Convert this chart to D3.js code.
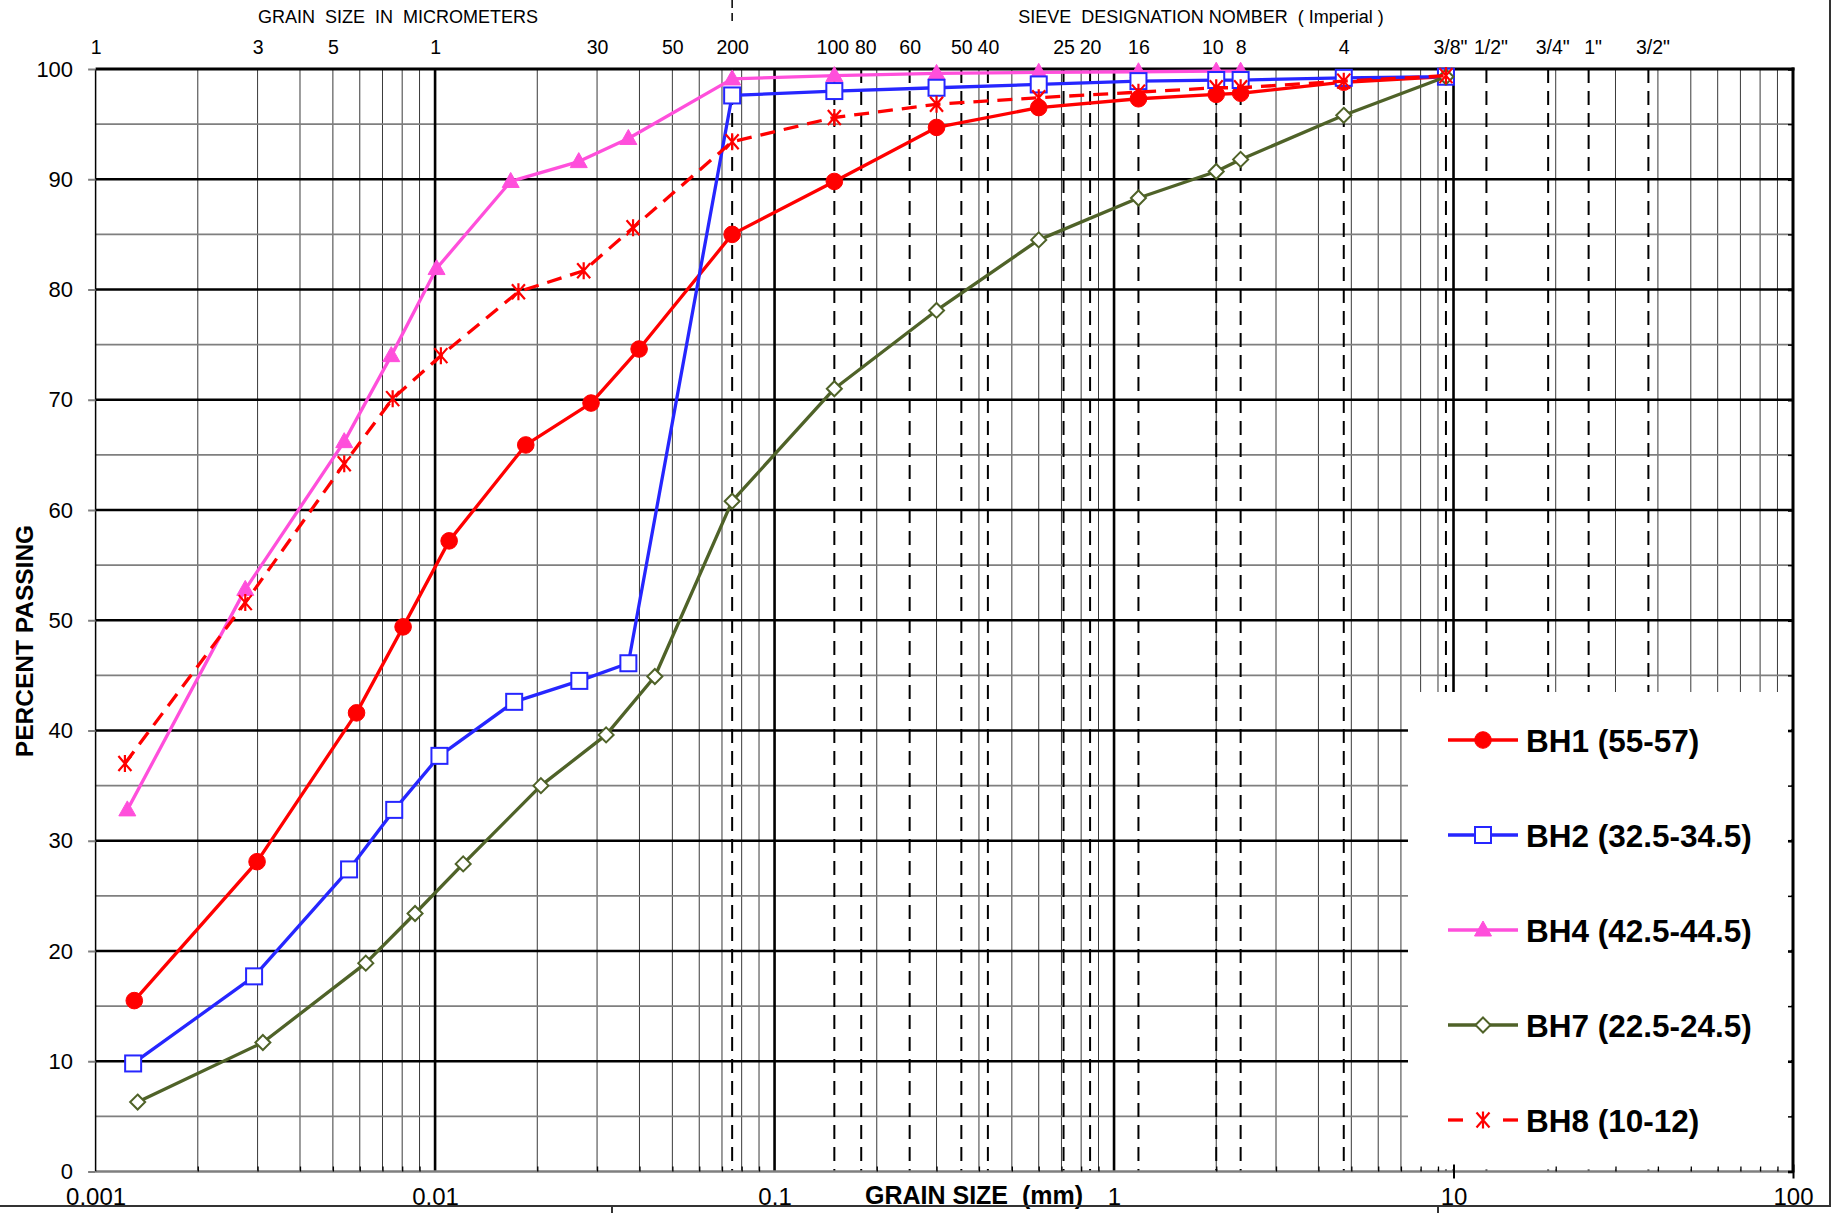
<!DOCTYPE html>
<html>
<head>
<meta charset="utf-8">
<script src="https://cdn.jsdelivr.net/npm/d3@7"></script>
<style>
  html, body { margin: 0; padding: 0; background: #fff; }
  svg { display: block; font-family: "Liberation Sans", Arial, sans-serif; }
</style>
</head>
<body>
<svg id="chart" width="1835" height="1213"></svg>
<script>
// ---------------- DATA ----------------
const seriesNames = ["BH1 (55-57)", "BH2 (32.5-34.5)", "BH4 (42.5-44.5)", "BH7 (22.5-24.5)", "BH8 (10-12)"];

const sizesBH1 = [0.0013, 0.00299, 0.00587, 0.00805, 0.0110, 0.0185, 0.0288, 0.0399, 0.075, 0.15, 0.3, 0.6, 1.18, 2.0, 2.36, 4.75, 9.5];
const passBH1  = [15.5, 28.1, 41.6, 49.4, 57.2, 65.9, 69.7, 74.6, 85.0, 89.8, 94.7, 96.5, 97.3, 97.7, 97.8, 98.8, 99.3];

const sizesBH2 = [0.00129, 0.00293, 0.00558, 0.00758, 0.0103, 0.0171, 0.0266, 0.0371, 0.075, 0.15, 0.3, 0.6, 1.18, 2.0, 2.36, 4.75, 9.5];
const passBH2  = [9.8, 17.7, 27.4, 32.8, 37.7, 42.6, 44.5, 46.1, 97.6, 98.0, 98.3, 98.6, 98.9, 99.0, 99.0, 99.2, 99.3];

const sizesBH4 = [0.00124, 0.00276, 0.0054, 0.00743, 0.0101, 0.0167, 0.0265, 0.0371, 0.075, 0.15, 0.3, 0.6, 1.18, 2.0, 2.36];
const passBH4  = [32.8, 52.8, 66.2, 74.0, 81.9, 89.8, 91.6, 93.7, 99.1, 99.4, 99.6, 99.7, 99.75, 99.8, 99.8];

const sizesBH7 = [0.00133, 0.00311, 0.00625, 0.00873, 0.0121, 0.0205, 0.0319, 0.0444, 0.075, 0.15, 0.3, 0.6, 1.18, 2.0, 2.36, 4.75, 9.5];
const passBH7  = [6.3, 11.7, 18.9, 23.4, 27.9, 35.0, 39.6, 44.9, 60.8, 71.0, 78.1, 84.5, 88.3, 90.7, 91.8, 95.8, 99.3];

const sizesBH8 = [0.00122, 0.00276, 0.0054, 0.0075, 0.0104, 0.0176, 0.0274, 0.0383, 0.075, 0.15, 0.3, 0.6, 1.18, 2.0, 2.36, 4.75, 9.5];
const passBH8  = [37.0, 51.6, 64.2, 70.1, 74.0, 79.8, 81.7, 85.6, 93.4, 95.6, 96.8, 97.4, 97.9, 98.3, 98.3, 98.9, 99.4];

// top labels: micrometer sizes then sieve designations (positions in mm)
const topTickValues = [0.001, 0.003, 0.005, 0.01, 0.03, 0.05, 0.075, 0.15, 0.18, 0.25, 0.355, 0.425, 0.71, 0.85, 1.18, 2.0, 2.36, 4.75, 9.5, 12.5, 19, 25, 37.5];
const topTickLabels = ["1", "3", "5", "1", "30", "50", "200", "100", "80", "60", "50", "40", "25", "20", "16", "10", "8", "4", "3/8\"", "1/2\"", "3/4\"", "1\"", "3/2\""];
// sieve lines drawn dashed
const sieveLines = [0.075, 0.15, 0.18, 0.25, 0.355, 0.425, 0.71, 0.85, 1.18, 2.0, 2.36, 4.75, 9.5, 12.5, 19, 25, 37.5];

const bottomTickValues = [0.001, 0.01, 0.1, 1, 10, 100];
const bottomTickLabels = ["0.001", "0.01", "0.1", "1", "10", "100"];
const yTickValues = [0, 10, 20, 30, 40, 50, 60, 70, 80, 90, 100];
const yMinorValues = [5, 15, 25, 35, 45, 55, 65, 75, 85, 95];

// ---------------- LAYOUT ----------------
const svg = d3.select("#chart");
const L = 95.6, R = 1793, T = 69, B = 1171.5;
const x = d3.scaleLog().domain([0.001, 100]).range([L, R]);
const y = d3.scaleLinear().domain([0, 100]).range([B, T]);

const decades = [0.001, 0.01, 0.1, 1, 10];
const minorX = [];
decades.forEach(d => { for (let k = 2; k <= 9; k++) minorX.push(+(k * d).toPrecision(3)); });

const grid = svg.append("g");
grid.selectAll(".vmin").data(minorX).join("line")
  .attr("x1", d => x(d)).attr("x2", d => x(d)).attr("y1", T).attr("y2", B)
  .attr("stroke", "#3a3a3a").attr("stroke-width", 1);
grid.selectAll(".hmin").data(yMinorValues).join("line")
  .attr("x1", L).attr("x2", R).attr("y1", d => y(d)).attr("y2", d => y(d))
  .attr("stroke", "#7f7f7f").attr("stroke-width", 1.6);
grid.selectAll(".sieve").data(sieveLines).join("line")
  .attr("x1", d => x(d)).attr("x2", d => x(d)).attr("y1", T).attr("y2", B)
  .attr("stroke", "#000").attr("stroke-width", 2).attr("stroke-dasharray", "14,8");
grid.selectAll(".vmaj").data([0.01, 0.1, 1, 10]).join("line")
  .attr("x1", d => x(d)).attr("x2", d => x(d)).attr("y1", T).attr("y2", B)
  .attr("stroke", "#000").attr("stroke-width", 2.6);
grid.selectAll(".hmaj").data(yTickValues.filter(v => v > 0 && v < 100)).join("line")
  .attr("x1", L).attr("x2", R).attr("y1", d => y(d)).attr("y2", d => y(d))
  .attr("stroke", "#000").attr("stroke-width", 2.6);

// legend background covers grid
const legX0 = 1408, legY0 = 692;
svg.append("rect").attr("x", legX0).attr("y", legY0).attr("width", R - 2 - legX0).attr("height", B - 2 - legY0)
  .attr("fill", "#fff");

// axis lines and borders
svg.append("line").attr("x1", L).attr("x2", R).attr("y1", B).attr("y2", B).attr("stroke", "#7f7f7f").attr("stroke-width", 2.6);
svg.append("line").attr("x1", L).attr("x2", L).attr("y1", T).attr("y2", B).attr("stroke", "#000").attr("stroke-width", 1.5);
svg.append("line").attr("x1", R).attr("x2", R).attr("y1", T - 1.5).attr("y2", B + 1).attr("stroke", "#000").attr("stroke-width", 3);
svg.append("line").attr("x1", L).attr("x2", R + 1.5).attr("y1", T).attr("y2", T).attr("stroke", "#000").attr("stroke-width", 3);

// right axis inner ticks
const rAxis = svg.append("g").attr("transform", `translate(${R},0)`)
  .call(d3.axisLeft(y).tickValues(yTickValues.concat(yMinorValues)).tickSize(5).tickFormat(""));
rAxis.select(".domain").remove();
rAxis.selectAll(".tick line").attr("stroke", "#000").attr("stroke-width", d => d % 10 === 0 ? 2.6 : 1.5);

// bottom axis inner ticks
const bAxisT = svg.append("g").attr("transform", `translate(0,${B})`)
  .call(d3.axisTop(x).tickValues(minorX).tickSize(5).tickFormat(""));
bAxisT.select(".domain").remove();
bAxisT.selectAll(".tick line").attr("stroke", "#000").attr("stroke-width", 1.3);
const bAxisM = svg.append("g").attr("transform", `translate(0,${B - 7})`)
  .call(d3.axisBottom(x).tickValues([10, 100]).tickSize(14).tickFormat(""));
bAxisM.select(".domain").remove();
bAxisM.selectAll(".tick line").attr("stroke", "#000").attr("stroke-width", 2);

// left axis with labels
const lAxis = svg.append("g").attr("transform", `translate(${L},0)`)
  .call(d3.axisLeft(y).tickValues(yTickValues).tickSize(7.5).tickPadding(15).tickSizeOuter(0));
lAxis.select(".domain").remove();
lAxis.selectAll(".tick line").attr("stroke", "#7f7f7f").attr("stroke-width", 2);
lAxis.selectAll(".tick text").attr("font-size", 22).attr("fill", "#000")
  .attr("font-family", "'Liberation Sans', Arial, sans-serif");

// top axis labels
const tAxis = svg.append("g").attr("transform", `translate(0,${T})`)
  .call(d3.axisTop(x).tickValues(topTickValues).tickSize(0).tickPadding(15)
    .tickFormat((d, i) => topTickLabels[i]));
tAxis.select(".domain").remove();
tAxis.selectAll(".tick text").attr("font-size", 19.5).attr("fill", "#000")
  .attr("font-family", "'Liberation Sans', Arial, sans-serif")
  .attr("dx", function() {
    const t = d3.select(this).text();
    if (t.endsWith("\"")) return 4;
    if (t === "80") return 4;
    if (t === "100") return -2;
    if (t === "10") return -4;
    return 0;
  });

// bottom axis labels
const bAxis = svg.append("g").attr("transform", `translate(0,${B})`)
  .call(d3.axisBottom(x).tickValues(bottomTickValues).tickSize(0).tickPadding(0)
    .tickFormat((d, i) => bottomTickLabels[i]));
bAxis.select(".domain").remove();
bAxis.selectAll(".tick text").attr("font-size", 24).attr("fill", "#000").attr("dy", null).attr("y", 33)
  .attr("font-family", "'Liberation Sans', Arial, sans-serif");

// titles
svg.append("text").attr("x", 974).attr("y", 1204).attr("text-anchor", "middle")
  .attr("font-size", 25).attr("font-weight", "bold").style("white-space", "pre").text("GRAIN SIZE  (mm)");
svg.append("text").attr("transform", "translate(33,641) rotate(-90)").attr("text-anchor", "middle")
  .attr("font-size", 24.5).attr("font-weight", "bold").text("PERCENT PASSING");
svg.append("text").attr("x", 398).attr("y", 23).attr("text-anchor", "middle").attr("font-size", 18)
  .style("white-space", "pre").text("GRAIN  SIZE  IN  MICROMETERS");
svg.append("text").attr("x", 1201).attr("y", 23).attr("text-anchor", "middle").attr("font-size", 18)
  .style("white-space", "pre").text("SIEVE  DESIGNATION NOMBER  ( Imperial )");
svg.append("line").attr("x1", x(0.075)).attr("x2", x(0.075)).attr("y1", 0).attr("y2", 24)
  .attr("stroke", "#000").attr("stroke-width", 1.5).attr("stroke-dasharray", "8,5");

// page frame
svg.append("line").attr("x1", 0).attr("x2", 1831).attr("y1", 1206).attr("y2", 1206).attr("stroke", "#333").attr("stroke-width", 2);
svg.append("line").attr("x1", 1830).attr("x2", 1830).attr("y1", 0).attr("y2", 1206).attr("stroke", "#333").attr("stroke-width", 2);
svg.append("line").attr("x1", 612).attr("x2", 612).attr("y1", 1206).attr("y2", 1213).attr("stroke", "#333").attr("stroke-width", 2);
svg.append("line").attr("x1", 1438).attr("x2", 1438).attr("y1", 1206).attr("y2", 1213).attr("stroke", "#333").attr("stroke-width", 2);

// ---------------- SERIES ----------------
const series = {
  BH1: { name: seriesNames[0], xs: sizesBH1, ys: passBH1, color: "#ff0000", dash: null, marker: "circle" },
  BH2: { name: seriesNames[1], xs: sizesBH2, ys: passBH2, color: "#2626ff", dash: null, marker: "square" },
  BH4: { name: seriesNames[2], xs: sizesBH4, ys: passBH4, color: "#ff4fdb", dash: null, marker: "triangle" },
  BH7: { name: seriesNames[3], xs: sizesBH7, ys: passBH7, color: "#4f6228", dash: null, marker: "diamond" },
  BH8: { name: seriesNames[4], xs: sizesBH8, ys: passBH8, color: "#ff0000", dash: "15,9", marker: "asterisk" }
};

function drawMarker(g, type, color) {
  if (type === "circle") {
    g.append("circle").attr("r", 8.3).attr("fill", color).attr("stroke", color).attr("stroke-width", 1);
  } else if (type === "square") {
    g.append("rect").attr("x", -8).attr("y", -8).attr("width", 16).attr("height", 16)
      .attr("fill", "#fff").attr("stroke", color).attr("stroke-width", 2);
  } else if (type === "triangle") {
    g.append("path").attr("d", "M0,-9 L8.5,6 L-8.5,6 Z").attr("fill", color).attr("stroke", color).attr("stroke-width", 1);
  } else if (type === "diamond") {
    g.append("path").attr("d", "M0,-7.5 L7.5,0 L0,7.5 L-7.5,0 Z").attr("fill", "#fff").attr("stroke", color).attr("stroke-width", 2);
  } else if (type === "asterisk") {
    g.append("path").attr("d", "M0,-8.5 L0,8.5 M-6.5,-7.5 L6.5,7.5 M-6.5,7.5 L6.5,-7.5")
      .attr("fill", "none").attr("stroke", color).attr("stroke-width", 2.2);
  }
}

const lineGen = d3.line().x(d => x(d[0])).y(d => y(d[1]));
const order = ["BH1", "BH4", "BH2", "BH7", "BH8"];
const plot = svg.append("g");
order.forEach(key => {
  const s = series[key];
  const pts = s.xs.map((v, i) => [v, s.ys[i]]);
  plot.append("path").datum(pts).attr("d", lineGen).attr("fill", "none")
    .attr("stroke", s.color).attr("stroke-width", 3.3)
    .attr("stroke-dasharray", s.dash).attr("stroke-linejoin", "round");
  pts.forEach(p => {
    const g = plot.append("g").attr("transform", `translate(${x(p[0])},${y(p[1])})`);
    drawMarker(g, s.marker, s.color);
  });
});

// ---------------- LEGEND ----------------
const legendKeys = ["BH1", "BH2", "BH4", "BH7", "BH8"];
const legendY = [740, 835, 930, 1025, 1120];
legendKeys.forEach((key, i) => {
  const s = series[key];
  const g = svg.append("g").attr("transform", `translate(0,${legendY[i]})`);
  if (s.dash) {
    g.append("line").attr("x1", 1448).attr("x2", 1463).attr("y1", 0).attr("y2", 0).attr("stroke", s.color).attr("stroke-width", 3.3);
    g.append("line").attr("x1", 1503).attr("x2", 1518).attr("y1", 0).attr("y2", 0).attr("stroke", s.color).attr("stroke-width", 3.3);
  } else {
    g.append("line").attr("x1", 1448).attr("x2", 1518).attr("y1", 0).attr("y2", 0).attr("stroke", s.color).attr("stroke-width", 3.3);
  }
  const m = g.append("g").attr("transform", "translate(1483,0)");
  drawMarker(m, s.marker, s.color);
  g.append("text").attr("x", 1526).attr("y", 11.5).attr("font-size", 31.5).attr("font-weight", "bold")
    .attr("fill", "#000").text(s.name);
});
</script>
</body>
</html>
